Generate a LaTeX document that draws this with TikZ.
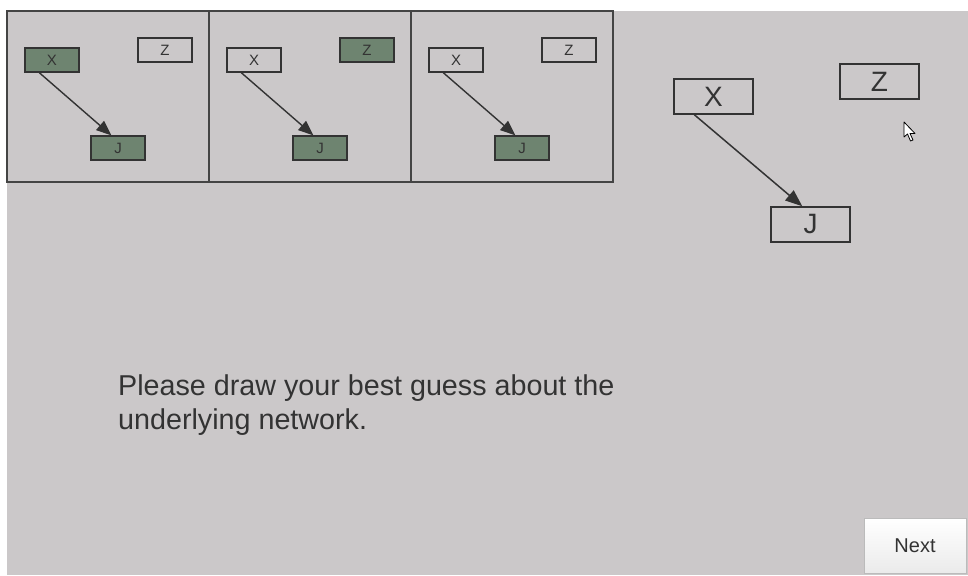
\documentclass[tikz,border=0pt]{standalone}
\usepackage{fontspec}
\setmainfont{Liberation Sans}
\usetikzlibrary{arrows.meta,calc}
\definecolor{bg}{HTML}{CBC8C9}
\definecolor{nodegreen}{HTML}{6E8470}
\definecolor{ink}{HTML}{333333}
\definecolor{frame}{HTML}{444444}
\definecolor{btnborder}{HTML}{BBBBBB}
\tikzset{
  small/.style={draw=ink, line width=1.4pt, minimum width=54pt, minimum height=24pt, inner sep=0pt, text=ink, font=\fontsize{15}{15}\selectfont},
  big/.style={draw=ink, line width=1.4pt, minimum width=79pt, minimum height=35pt, inner sep=0pt, text=ink, font=\fontsize{28}{28}\selectfont},
  on/.style={fill=nodegreen},
  off/.style={fill=none},
  edge/.style={draw=ink, line width=1.4pt, -{Triangle[length=15pt,width=12pt]}},
  bigedge/.style={draw=ink, line width=1.5pt, -{Triangle[length=17pt,width=13pt]}},
  panel/.style={draw=frame, line width=1.2pt},
}
\begin{document}
\begin{tikzpicture}[x=1pt,y=-1pt]
\useasboundingbox (0,0) rectangle (968,575);
\fill[white] (0,0) rectangle (968,575);
\fill[bg] (7,11) rectangle (968,575);
% panels
\draw[panel] (7,11) rectangle (209,182);
\draw[panel] (209,11) rectangle (411,182);
\draw[panel] (411,11) rectangle (613,182);
% panel 1
\node[small,on]  (x1) at (52,60)  {X};
\node[small,off] (z1) at (165,50) {Z};
\node[small,on]  (j1) at (118,148) {J};
\draw[edge] ($(x1.south west)+(15,0)$) -- ($(j1.north west)+(21,0)$);
% panel 2
\node[small,off] (x2) at (254,60)  {X};
\node[small,on]  (z2) at (367,50) {Z};
\node[small,on]  (j2) at (320,148) {J};
\draw[edge] ($(x2.south west)+(15,0)$) -- ($(j2.north west)+(21,0)$);
% panel 3
\node[small,off] (x3) at (456,60)  {X};
\node[small,off] (z3) at (569,50) {Z};
\node[small,on]  (j3) at (522,148) {J};
\draw[edge] ($(x3.south west)+(15,0)$) -- ($(j3.north west)+(21,0)$);
% main graph
\node[big,off] (X) at (713.5,96.5) {X};
\node[big,off] (Z) at (879.5,81.5) {Z};
\node[big,off] (J) at (810.5,224.5) {J};
\draw[bigedge] ($(X.south west)+(21,0)$) -- ($(J.north west)+(32,0)$);
% mouse pointer
\filldraw[fill=white, draw=black, line width=0.8pt, line join=round]
  (904,122) -- (904,137) -- (907.5,134) -- (910.5,141) -- (913,140) -- (910,133.5) -- (915,133.5) -- cycle;
% prompt text
\node[anchor=base west, inner sep=0pt, text=ink, font=\fontsize{28.7}{34}\selectfont, align=left] (prompt) at (118,429)
  {Please draw your best guess about the\\underlying network.};
% Next button
\node[draw=btnborder, line width=1pt, top color=white, bottom color=black!8, minimum width=102pt, minimum height=55pt, inner sep=0pt, text=ink, font=\fontsize{20}{20}\selectfont] (next) at (915,545.5) {Next};
\end{tikzpicture}
\end{document}
